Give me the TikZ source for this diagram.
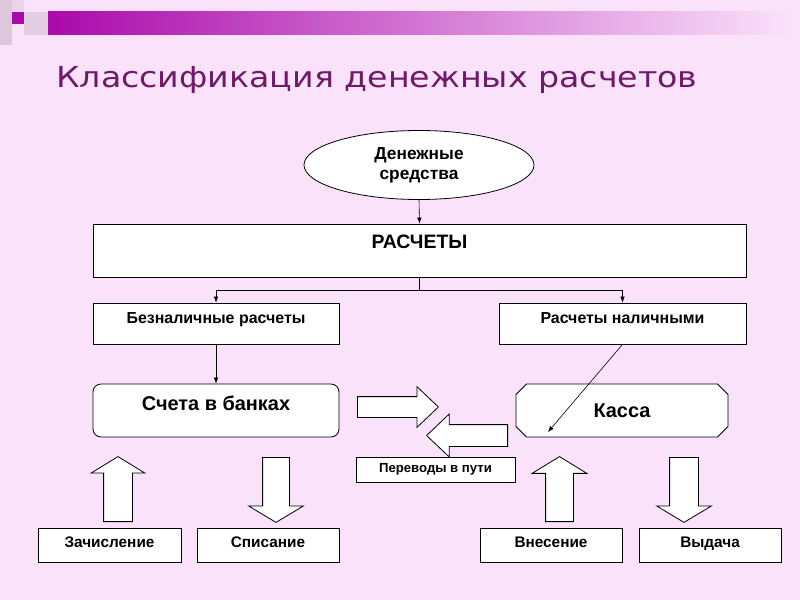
\documentclass[tikz,border=0pt]{standalone}
\usepackage{fontspec}
\setmainfont{Liberation Sans}
\newfontfamily\titlefont[FakeStretch=1.15]{DejaVu Sans}
\usetikzlibrary{positioning}
\usetikzlibrary{calc}
\usetikzlibrary{shapes.geometric,shapes.misc,shapes.arrows}
\usetikzlibrary{arrows.meta}

\definecolor{slidebg}{RGB}{250,226,250}
\definecolor{barpurple}{RGB}{170,10,170}
\definecolor{titlepurple}{RGB}{110,25,105}

\begin{document}
\begin{tikzpicture}[x=1bp, y=-1bp,
	box/.style={draw, fill=white, line width=0.8bp, inner sep=0pt, align=center},
	basetext/.style={text height=6bp, text depth=6bp},
	lowtext/.style={text height=8bp, text depth=3bp},
	blockarrow/.style={single arrow, draw, fill=white, line width=0.8bp, inner xsep=0pt, anchor=tail},
	arr/.style={-{Latex[length=6bp,width=4.5bp]}, line width=0.6bp}]

% slide background
\fill[slidebg] (0,0) rectangle (800,600);
\useasboundingbox (0,0) rectangle (800,600);
\fill[black!12!slidebg] (0,0) rectangle (12,45);
\fill[black!6!slidebg] (12,0) rectangle (24,12);
\fill[black!9!slidebg] (24,12) rectangle (48,35);
\fill[barpurple] (12,12) rectangle (24,24);
\shade[left color=barpurple, right color=slidebg] (48,12) rectangle (792,35);

\node[anchor=base west, inner sep=0pt, text=titlepurple, font=\titlefont\fontsize{29}{34}\selectfont] (title) at (56,88) {Классификация денежных расчетов};

\node[box, ellipse, minimum width=230bp, minimum height=69bp, font=\bfseries\fontsize{17.4}{20}\selectfont] (money) at (419,165) {Денежные\\средства};
\node[box, minimum width=653bp, minimum height=53bp, text height=6bp, text depth=11bp, font=\bfseries\fontsize{19.5}{22}\selectfont] (settle) at (419.5,250.5) {РАСЧЕТЫ};

\node[box, basetext, minimum width=246bp, minimum height=41bp, font=\bfseries\fontsize{16}{18}\selectfont] (noncash) at (216,323.5) {Безналичные расчеты};
\node[box, basetext, minimum width=247bp, minimum height=41bp, font=\bfseries\fontsize{16}{18}\selectfont] (cash) at (622.5,323.5) {Расчеты наличными};

\node[box, basetext, rounded corners=8bp, minimum width=246bp, minimum height=53bp, font=\bfseries\fontsize{20}{22}\selectfont] (bank) at (216,410.5) {Счета в банках};
\node[box, chamfered rectangle, chamfered rectangle xsep=16bp, minimum width=212bp, minimum height=53bp, font=\bfseries\fontsize{20}{22}\selectfont] (till) at (622,410.5) {Касса};

\node[box, lowtext, minimum width=159bp, minimum height=25bp, font=\bfseries\fontsize{13.2}{15}\selectfont] (transit) at (435.5,469.5) {Переводы в пути};

\node[box, lowtext, minimum width=143bp, minimum height=34bp, font=\bfseries\fontsize{15.4}{17}\selectfont] (credit) at (109.5,545) {Зачисление};
\node[box, lowtext, minimum width=142bp, minimum height=34bp, font=\bfseries\fontsize{15.4}{17}\selectfont] (debit) at (268,545) {Списание};
\node[box, lowtext, minimum width=142bp, minimum height=34bp, font=\bfseries\fontsize{15.4}{17}\selectfont] (deposit) at (551,545) {Внесение};
\node[box, lowtext, minimum width=142bp, minimum height=34bp, font=\bfseries\fontsize{15.4}{17}\selectfont] (payout) at (710,545) {Выдача};

% block arrows
\node[blockarrow, inner ysep=10bp, single arrow head extend=10bp, single arrow tip angle=87, minimum height=81bp] (tobank) at (357,407) {};
\node[blockarrow, rotate=180, inner ysep=10.5bp, single arrow head extend=10.5bp, single arrow tip angle=87, minimum height=81bp] (fromtill) at (508,435.5) {};
\node[blockarrow, rotate=90, inner ysep=14bp, single arrow head extend=12.5bp, single arrow tip angle=117, minimum height=65bp] (upcredit) at (118,522) {};
\node[blockarrow, rotate=-90, inner ysep=13bp, single arrow head extend=14bp, single arrow tip angle=118, minimum height=65bp] (downdebit) at (276,457) {};
\node[blockarrow, rotate=90, inner ysep=13.5bp, single arrow head extend=13.5bp, single arrow tip angle=117, minimum height=65bp] (updeposit) at (559.5,522) {};
\node[blockarrow, rotate=-90, inner ysep=14bp, single arrow head extend=13bp, single arrow tip angle=118, minimum height=65bp] (downpayout) at (684,457) {};

\coordinate (split) at ($(settle.south)+(0,13)$);
\coordinate (tillhit) at ($(till.south west)+(27,0)$);

\draw[arr] (money.south) -- (settle.north);
\draw[line width=0.6bp] (settle.south) -- (split);
\draw[arr] (split) -| (noncash.north);
\draw[arr] (split) -| (cash.north);
\draw[arr] (noncash.south) -- (bank.north);
\draw[arr] (cash.south) -- (tillhit);
\end{tikzpicture}
\end{document}
